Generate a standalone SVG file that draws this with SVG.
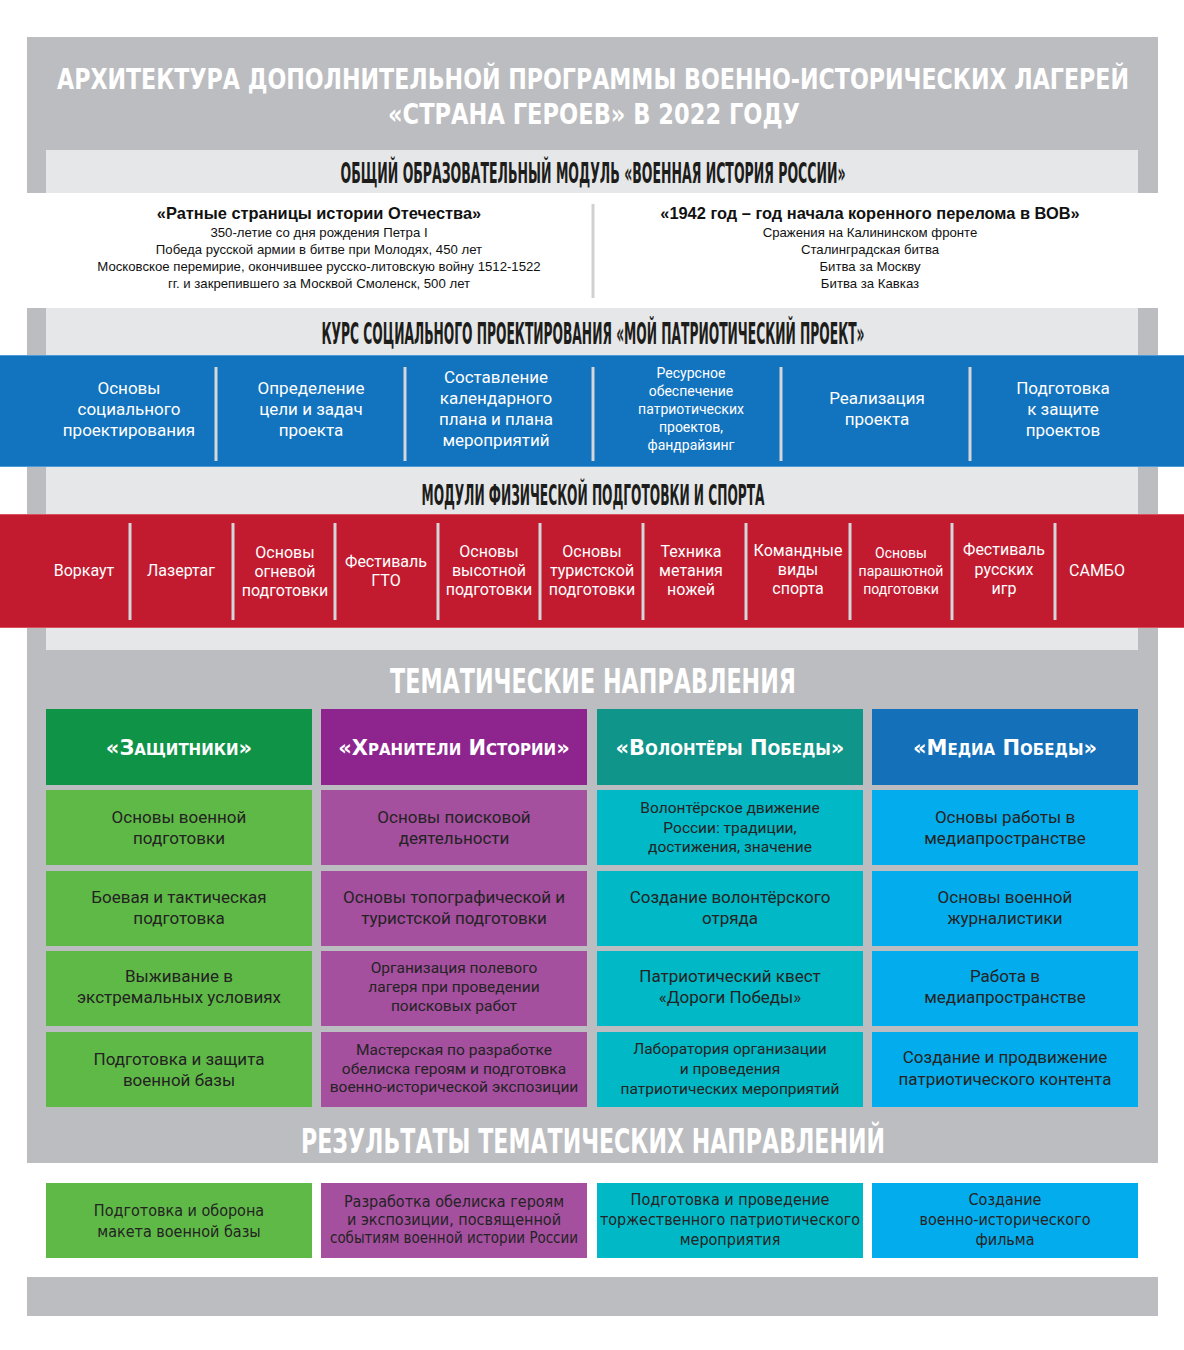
<svg xmlns="http://www.w3.org/2000/svg" width="1184" height="1350" viewBox="0 0 1184 1350">
<style>
.grey{fill:#bcbdc0}
.light{fill:#e6e7e8}
.disp{font-family:"DejaVu Sans Condensed","DejaVu Sans",sans-serif;font-weight:bold;font-stretch:condensed;text-anchor:middle}
.wt{fill:#ffffff}
.dk{fill:#1d1d1b}
.sm{font-family:"Liberation Sans",Arial,sans-serif;font-size:13.2px;fill:#111;text-anchor:middle}
.smb{font-family:"Liberation Sans",Arial,sans-serif;font-size:16.4px;font-weight:bold;fill:#111;text-anchor:middle}
.bt{font-family:Roboto,"Liberation Sans",sans-serif;font-size:17px;fill:#fff;text-anchor:middle}
.bts{font-family:Roboto,"Liberation Sans",sans-serif;font-size:14px;fill:#fff;text-anchor:middle}
.rt{font-family:Roboto,"Liberation Sans",sans-serif;font-size:16px;fill:#fff;text-anchor:middle}
.rts{font-family:Roboto,"Liberation Sans",sans-serif;font-size:14px;fill:#fff;text-anchor:middle}
.ct{font-family:Roboto,"Liberation Sans",sans-serif;font-size:17px;fill:#232323;text-anchor:middle}
.cts{font-family:Roboto,"Liberation Sans",sans-serif;font-size:15.5px;fill:#232323;text-anchor:middle}
.cn{font-family:"DejaVu Sans Condensed","Liberation Sans",sans-serif;font-stretch:condensed;font-size:16px;fill:#232323;text-anchor:middle}
.hd{font-family:"DejaVu Sans","Liberation Sans",sans-serif;font-weight:bold;font-size:21px;font-variant:small-caps;fill:#fff;text-anchor:middle}
.div{stroke:#d4d6da;stroke-width:3}
.sep{stroke:#d0d0d0;stroke-width:3}
.g1{fill:#0f9347}.g2{fill:#5fb946}
.p1{fill:#8e258f}.p2{fill:#a54f9f}
.t1{fill:#10958a}.t2{fill:#00b8c6}
.b1{fill:#1470b9}.b2{fill:#03acec}
</style>
<rect width="1184" height="1350" fill="#ffffff"/>
<g id="background">
<rect class="grey" x="27" y="37" width="1131" height="156"/>
<rect class="grey" x="27" y="308" width="1131" height="855"/>
<rect class="grey" x="27" y="1277" width="1131" height="39"/>
<rect class="light" x="46" y="150" width="1092" height="43"/>
<rect class="light" x="46" y="308" width="1092" height="47"/>
<rect class="light" x="46" y="467" width="1092" height="47"/>
<rect class="light" x="46" y="628" width="1092" height="22"/>
</g>
<g id="title">
<text class="disp wt" transform="translate(593,89) scale(1,1.2)" x="0" y="0" font-size="24" textLength="1072" lengthAdjust="spacingAndGlyphs">АРХИТЕКТУРА ДОПОЛНИТЕЛЬНОЙ ПРОГРАММЫ ВОЕННО-ИСТОРИЧЕСКИХ ЛАГЕРЕЙ</text>
<text class="disp wt" transform="translate(594,124) scale(1,1.2)" x="0" y="0" font-size="24" textLength="412" lengthAdjust="spacingAndGlyphs">«СТРАНА ГЕРОЕВ» В 2022 ГОДУ</text>
</g>
<g id="module-history">
<text class="disp dk" transform="translate(593,183) scale(1,1.95)" x="0" y="0" font-size="14.6" textLength="505" lengthAdjust="spacingAndGlyphs">ОБЩИЙ ОБРАЗОВАТЕЛЬНЫЙ МОДУЛЬ «ВОЕННАЯ ИСТОРИЯ РОССИИ»</text>
<line class="sep" x1="593" y1="204" x2="593" y2="298"/>
<g id="history-left">
<text class="smb" x="319" y="219">«Ратные страницы истории Отечества»</text>
<text class="sm" x="319" y="237">350-летие со дня рождения Петра I</text>
<text class="sm" x="319" y="254">Победа русской армии в битве при Молодях, 450 лет</text>
<text class="sm" x="319" y="271">Московское перемирие, окончившее русско-литовскую войну 1512-1522</text>
<text class="sm" x="319" y="288">гг. и закрепившего за Москвой Смоленск, 500 лет</text>
</g>
<g id="history-right">
<text class="smb" x="870" y="219">«1942 год – год начала коренного перелома в ВОВ»</text>
<text class="sm" x="870" y="237">Сражения на Калининском фронте</text>
<text class="sm" x="870" y="254">Сталинградская битва</text>
<text class="sm" x="870" y="271">Битва за Москву</text>
<text class="sm" x="870" y="288">Битва за Кавказ</text>
</g>
</g>
<g id="course-project">
<text class="disp dk" transform="translate(593,344) scale(1,2)" x="0" y="0" font-size="14.7" textLength="543" lengthAdjust="spacingAndGlyphs">КУРС СОЦИАЛЬНОГО ПРОЕКТИРОВАНИЯ «МОЙ ПАТРИОТИЧЕСКИЙ ПРОЕКТ»</text>
<rect x="0" y="355" width="1184" height="112" fill="#1273be"/>
<line x1="0" y1="355.5" x2="1184" y2="355.5" stroke="#4b9ad6" stroke-width="1"/>
<line x1="0" y1="466.5" x2="1184" y2="466.5" stroke="#4b9ad6" stroke-width="1"/>
<g id="dividers-blue">
<line class="div" x1="216" y1="367" x2="216" y2="461"/>
<line class="div" x1="405" y1="367" x2="405" y2="461"/>
<line class="div" x1="593" y1="367" x2="593" y2="461"/>
<line class="div" x1="781" y1="367" x2="781" y2="461"/>
<line class="div" x1="970" y1="367" x2="970" y2="461"/>
</g>
<g id="c1"><text class="bt" x="129" y="394">Основы</text><text class="bt" x="129" y="415">социального</text><text class="bt" x="129" y="436">проектирования</text></g>
<g id="c2"><text class="bt" x="311" y="394">Определение</text><text class="bt" x="311" y="415">цели и задач</text><text class="bt" x="311" y="436">проекта</text></g>
<g id="c3"><text class="bt" x="496" y="383">Составление</text><text class="bt" x="496" y="404">календарного</text><text class="bt" x="496" y="425">плана и плана</text><text class="bt" x="496" y="446">мероприятий</text></g>
<g id="c4"><text class="bts" x="691" y="378">Ресурсное</text><text class="bts" x="691" y="396">обеспечение</text><text class="bts" x="691" y="414">патриотических</text><text class="bts" x="691" y="432">проектов,</text><text class="bts" x="691" y="450">фандрайзинг</text></g>
<g id="c5"><text class="bt" x="877" y="404">Реализация</text><text class="bt" x="877" y="425">проекта</text></g>
<g id="c6"><text class="bt" x="1063" y="394">Подготовка</text><text class="bt" x="1063" y="415">к защите</text><text class="bt" x="1063" y="436">проектов</text></g>
</g>
<g id="sport-modules">
<text class="disp dk" transform="translate(593,505) scale(1,2)" x="0" y="0" font-size="14.5" textLength="343" lengthAdjust="spacingAndGlyphs">МОДУЛИ ФИЗИЧЕСКОЙ ПОДГОТОВКИ И СПОРТА</text>
<rect x="0" y="514" width="1184" height="114" fill="#c21b30"/>
<line x1="0" y1="514.5" x2="1184" y2="514.5" stroke="#d9505f" stroke-width="1"/>
<line x1="0" y1="627.5" x2="1184" y2="627.5" stroke="#d9505f" stroke-width="1"/>
<g id="dividers-red">
<line class="div" x1="130" y1="523" x2="130" y2="620"/>
<line class="div" x1="233" y1="523" x2="233" y2="620"/>
<line class="div" x1="335" y1="523" x2="335" y2="620"/>
<line class="div" x1="438" y1="523" x2="438" y2="620"/>
<line class="div" x1="540" y1="523" x2="540" y2="620"/>
<line class="div" x1="643" y1="523" x2="643" y2="620"/>
<line class="div" x1="746" y1="523" x2="746" y2="620"/>
<line class="div" x1="850" y1="523" x2="850" y2="620"/>
<line class="div" x1="952" y1="523" x2="952" y2="620"/>
<line class="div" x1="1055" y1="523" x2="1055" y2="620"/>
</g>
<g id="s1"><text class="rt" x="84" y="576" font-size="17">Воркаут</text></g>
<g id="s2"><text class="rt" x="181" y="576" font-size="17">Лазертаг</text></g>
<g id="s3"><text class="rt" x="285" y="558">Основы</text><text class="rt" x="285" y="577">огневой</text><text class="rt" x="285" y="596">подготовки</text></g>
<g id="s4"><text class="rt" x="386" y="567">Фестиваль</text><text class="rt" x="386" y="586">ГТО</text></g>
<g id="s5"><text class="rt" x="489" y="557">Основы</text><text class="rt" x="489" y="576">высотной</text><text class="rt" x="489" y="595">подготовки</text></g>
<g id="s6"><text class="rt" x="592" y="557">Основы</text><text class="rt" x="592" y="576">туристской</text><text class="rt" x="592" y="595">подготовки</text></g>
<g id="s7"><text class="rt" x="691" y="557">Техника</text><text class="rt" x="691" y="576">метания</text><text class="rt" x="691" y="595">ножей</text></g>
<g id="s8"><text class="rt" x="798" y="556">Командные</text><text class="rt" x="798" y="575">виды</text><text class="rt" x="798" y="594">спорта</text></g>
<g id="s9"><text class="rts" x="901" y="558">Основы</text><text class="rts" x="901" y="576">парашютной</text><text class="rts" x="901" y="594">подготовки</text></g>
<g id="s10"><text class="rt" x="1004" y="555">Фестиваль</text><text class="rt" x="1004" y="575">русских</text><text class="rt" x="1004" y="594">игр</text></g>
<g id="s11"><text class="rt" x="1097" y="576" font-size="17">САМБО</text></g>
</g>
<g id="thematic">
<text class="disp wt" transform="translate(593,693) scale(1,1.35)" x="0" y="0" font-size="25" textLength="406" lengthAdjust="spacingAndGlyphs">ТЕМАТИЧЕСКИЕ НАПРАВЛЕНИЯ</text>
<g id="col-defenders">
<rect class="g1" x="46" y="709" width="266" height="76"/>
<text class="hd" x="179" y="755">«Защитники»</text>
<rect class="g2" x="46" y="790" width="266" height="75"/>
<text class="ct" x="179" y="823">Основы военной</text><text class="ct" x="179" y="844">подготовки</text>
<rect class="g2" x="46" y="871" width="266" height="75"/>
<text class="ct" x="179" y="903">Боевая и тактическая</text><text class="ct" x="179" y="924">подготовка</text>
<rect class="g2" x="46" y="951" width="266" height="75"/>
<text class="ct" x="179" y="982">Выживание в</text><text class="ct" x="179" y="1003">экстремальных условиях</text>
<rect class="g2" x="46" y="1032" width="266" height="75"/>
<text class="ct" x="179" y="1065">Подготовка и защита</text><text class="ct" x="179" y="1086">военной базы</text>
</g>
<g id="col-keepers">
<rect class="p1" x="321" y="709" width="266" height="76"/>
<text class="hd" x="454" y="755">«Хранители Истории»</text>
<rect class="p2" x="321" y="790" width="266" height="75"/>
<text class="ct" x="454" y="823">Основы поисковой</text><text class="ct" x="454" y="844">деятельности</text>
<rect class="p2" x="321" y="871" width="266" height="75"/>
<text class="ct" x="454" y="903">Основы топографической и</text><text class="ct" x="454" y="924">туристской подготовки</text>
<rect class="p2" x="321" y="951" width="266" height="75"/>
<text class="cts" x="454" y="973">Организация полевого</text><text class="cts" x="454" y="992">лагеря при проведении</text><text class="cts" x="454" y="1011">поисковых работ</text>
<rect class="p2" x="321" y="1032" width="266" height="75"/>
<text class="cts" x="454" y="1055" font-size="14.5">Мастерская по разработке</text><text class="cts" x="454" y="1074" font-size="14.5">обелиска героям и подготовка</text><text class="cts" x="454" y="1092" font-size="14.5">военно-исторической экспозиции</text>
</g>
<g id="col-volunteers">
<rect class="t1" x="597" y="709" width="266" height="76"/>
<text class="hd" x="730" y="755">«Волонтёры Победы»</text>
<rect class="t2" x="597" y="790" width="266" height="75"/>
<text class="cts" x="730" y="813">Волонтёрское движение</text><text class="cts" x="730" y="833">России: традиции,</text><text class="cts" x="730" y="852">достижения, значение</text>
<rect class="t2" x="597" y="871" width="266" height="75"/>
<text class="ct" x="730" y="903">Создание волонтёрского</text><text class="ct" x="730" y="924">отряда</text>
<rect class="t2" x="597" y="951" width="266" height="75"/>
<text class="ct" x="730" y="982">Патриотический квест</text><text class="ct" x="730" y="1003">«Дороги Победы»</text>
<rect class="t2" x="597" y="1032" width="266" height="75"/>
<text class="cts" x="730" y="1054">Лаборатория организации</text><text class="cts" x="730" y="1074">и проведения</text><text class="cts" x="730" y="1094">патриотических мероприятий</text>
</g>
<g id="col-media">
<rect class="b1" x="872" y="709" width="266" height="76"/>
<text class="hd" x="1005" y="755">«Медиа Победы»</text>
<rect class="b2" x="872" y="790" width="266" height="75"/>
<text class="ct" x="1005" y="823">Основы работы в</text><text class="ct" x="1005" y="844">медиапространстве</text>
<rect class="b2" x="872" y="871" width="266" height="75"/>
<text class="ct" x="1005" y="903">Основы военной</text><text class="ct" x="1005" y="924">журналистики</text>
<rect class="b2" x="872" y="951" width="266" height="75"/>
<text class="ct" x="1005" y="982">Работа в</text><text class="ct" x="1005" y="1003">медиапространстве</text>
<rect class="b2" x="872" y="1032" width="266" height="75"/>
<text class="ct" x="1005" y="1063">Создание и продвижение</text><text class="ct" x="1005" y="1085">патриотического контента</text>
</g>
</g>
<g id="results">
<text class="disp wt" transform="translate(593,1153) scale(1,1.35)" x="0" y="0" font-size="25" textLength="584" lengthAdjust="spacingAndGlyphs">РЕЗУЛЬТАТЫ ТЕМАТИЧЕСКИХ НАПРАВЛЕНИЙ</text>
<g id="res-defenders">
<rect class="g2" x="46" y="1183" width="266" height="75"/>
<text class="cn" x="179" y="1216" font-size="17">Подготовка и оборона</text><text class="cn" x="179" y="1237" font-size="17">макета военной базы</text>
</g>
<g id="res-keepers">
<rect class="p2" x="321" y="1183" width="266" height="75"/>
<text class="cn" x="454" y="1207" font-size="15">Разработка обелиска героям</text><text class="cn" x="454" y="1225" font-size="15">и экспозиции, посвященной</text><text class="cn" x="454" y="1243" font-size="15" textLength="248" lengthAdjust="spacingAndGlyphs">событиям военной истории России</text>
</g>
<g id="res-volunteers">
<rect class="t2" x="597" y="1183" width="266" height="75"/>
<text class="cn" x="730" y="1205">Подготовка и проведение</text><text class="cn" x="730" y="1225" textLength="260" lengthAdjust="spacingAndGlyphs">торжественного патриотического</text><text class="cn" x="730" y="1245">мероприятия</text>
</g>
<g id="res-media">
<rect class="b2" x="872" y="1183" width="266" height="75"/>
<text class="cn" x="1005" y="1205">Создание</text><text class="cn" x="1005" y="1225">военно-исторического</text><text class="cn" x="1005" y="1245">фильма</text>
</g>
</g>
</svg>
